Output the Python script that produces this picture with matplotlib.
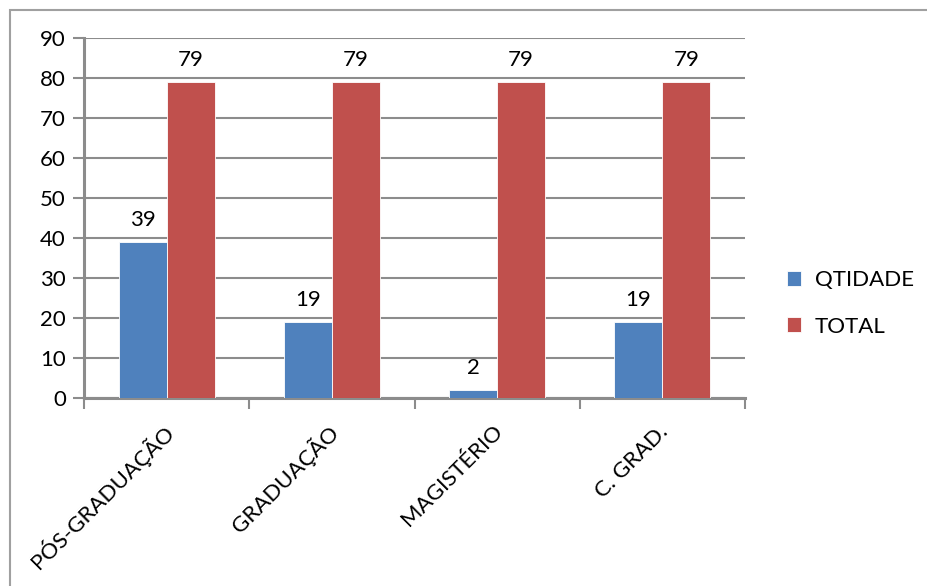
import matplotlib
matplotlib.use("Agg")
import matplotlib.pyplot as plt
from matplotlib.patches import Rectangle
import numpy as np

categories = ["PÓS-GRADUAÇÃO", "GRADUAÇÃO", "MAGISTÉRIO", "C. GRAD."]
qtidade = [39, 19, 2, 19]
total = [79, 79, 79, 79]
series_names = ["QTIDADE", "TOTAL"]
y_ticks = list(range(0, 91, 10))

plt.rcParams["font.family"] = ["Lato", "DejaVu Sans"]
FS = 16
GRID = "#8c8c8c"
BLUE = "#4F81BD"
RED = "#C0504D"

fig = plt.figure(figsize=(9.27, 5.86), dpi=100)
W, H = 927, 586

# outer chart frame
fig.patches.append(Rectangle((10 / W, -0.05), 1.1, 1 - 10 / H + 0.05,
                             transform=fig.transFigure, fill=False,
                             edgecolor="#a0a0a0", linewidth=1.5))

ax = fig.add_axes([84 / W, 1 - 398 / H, (745 - 84) / W, (398 - 38) / H])

x = np.arange(len(categories))
bw = 0.29
b1 = ax.bar(x - bw / 2, qtidade, bw, color=BLUE, edgecolor="white",
            linewidth=0.6, label=series_names[0], zorder=3)
b2 = ax.bar(x + bw / 2, total, bw, color=RED, edgecolor="white",
            linewidth=0.6, label=series_names[1], zorder=3)

for bars, vals in ((b1, qtidade), (b2, total)):
    for rect, v in zip(bars, vals):
        ax.annotate(str(v), (rect.get_x() + rect.get_width() / 2, v),
                    xytext=(0, 9), textcoords="offset points",
                    ha="center", va="bottom", fontsize=FS)

ax.set_xlim(-0.5, len(categories) - 0.5)
ax.set_ylim(0, 90)
ax.set_yticks(y_ticks)
ax.set_yticklabels([str(t) for t in y_ticks], fontsize=FS)
ax.yaxis.grid(True, color=GRID, linewidth=1.5, zorder=0)
ax.set_axisbelow(True)

# category boundary ticks
ax.set_xticks(np.arange(-0.5, len(categories)), minor=False)
ax.set_xticklabels([])
ax.tick_params(axis="x", direction="out", length=8, width=1.5, color=GRID)
ax.tick_params(axis="y", direction="out", length=8, width=1.5, color=GRID, pad=5)

for i, c in enumerate(categories):
    ax.annotate(c, (i, 0), xytext=(2, -22), textcoords="offset points",
                rotation=45, rotation_mode="anchor", ha="right", va="center",
                fontsize=FS)

for s in ("top", "right"):
    ax.spines[s].set_visible(False)
for s in ("left", "bottom"):
    ax.spines[s].set_color(GRID)
    ax.spines[s].set_linewidth(2.2)

leg = fig.legend(handles=[b1, b2], labels=series_names, loc="upper left",
                 bbox_to_anchor=(767 / W, 1 - 250 / H), frameon=False,
                 fontsize=FS, handlelength=0.65, handleheight=0.65,
                 labelspacing=1.2, handletextpad=0.6)

fig.savefig("out.png", dpi=100)
